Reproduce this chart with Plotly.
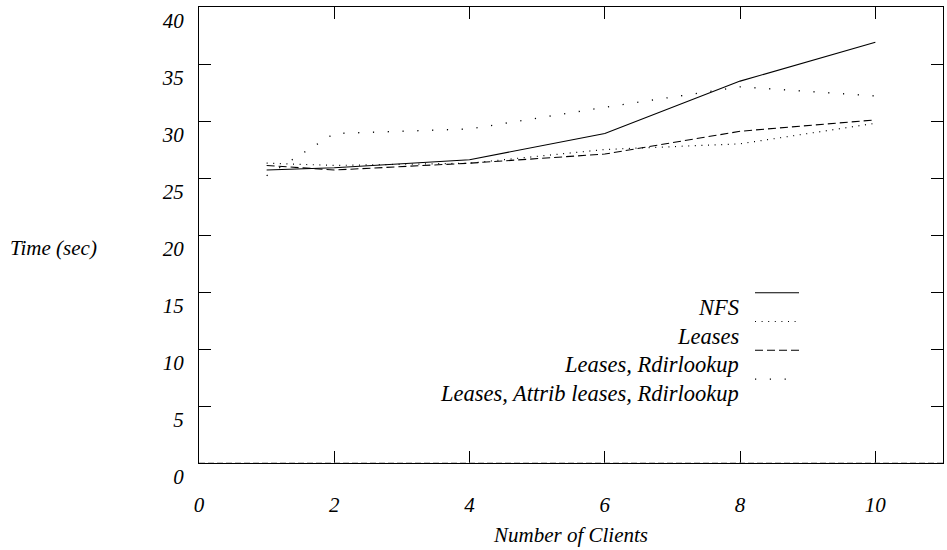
import plotly.graph_objects as go

clients = [1, 2, 4, 6, 8, 10]
series_names = ["NFS", "Leases", "Leases, Rdirlookup", "Leases, Attrib leases, Rdirlookup"]
nfs = [25.7, 25.9, 26.6, 28.9, 33.5, 36.9]
leases = [26.3, 26.1, 26.3, 27.5, 28.0, 29.8]
leases_rdir = [26.1, 25.7, 26.3, 27.1, 29.1, 30.1]
leases_attrib_rdir = [25.2, 28.9, 29.3, 31.2, 33.0, 32.2]
x_ticks = [0, 2, 4, 6, 8, 10]
y_ticks = [0, 5, 10, 15, 20, 25, 30, 35, 40]

series_values = [nfs, leases, leases_rdir, leases_attrib_rdir]
dashes = ["solid", "1px,5.6px", "8px,4px", "1.2px,13.6px"]
widths = [1.1, 1.2, 1.1, 1.3]

FONT = "Liberation Serif"
FS = 21
TXT = dict(family=FONT, size=FS, style="italic", color="black")
LEG_TXT = dict(family=FONT, size=22.5, style="italic", color="black")

fig = go.Figure()
for name, vals, d, w in zip(series_names, series_values, dashes, widths):
    fig.add_trace(go.Scatter(x=clients, y=vals, mode="lines", name=name,
                             line=dict(color="black", width=w, dash=d),
                             showlegend=False))

L, R, T, B = 199, 943, 7, 463
def px(xp): return (xp - L) / (R - L)
def py(yp): return (B - yp) / (B - T)

annotations = []
shapes = []
for i, (name, d, w) in enumerate(zip(series_names, dashes, widths)):
    ys = 292.7 + i * 28.8
    shapes.append(dict(type="line", xref="paper", yref="paper",
                       x0=px(755), x1=px(799), y0=py(ys), y1=py(ys),
                       line=dict(color="black", width=w, dash=d)))
    annotations.append(dict(text=name, xref="paper", yref="paper",
                            x=px(741), y=py(ys + 14.5), xanchor="right", yanchor="middle",
                            showarrow=False, font=LEG_TXT))

annotations.append(dict(text="Time (sec)", xref="paper", yref="paper",
                        x=px(8), y=py(248), xanchor="left", yanchor="middle",
                        showarrow=False, font=TXT))
annotations.append(dict(text="Number of Clients", xref="paper", yref="paper",
                        x=px(570), y=py(535), xanchor="center", yanchor="middle",
                        showarrow=False, font=TXT))

shapes.append(dict(type="line", xref="x", yref="y", x0=0, x1=11, y0=0, y1=0,
                   layer="above", line=dict(color="#888888", width=1, dash="6px,3px")))

fig.update_layout(
    width=947, height=550,
    margin=dict(l=L, r=947 - R, t=T, b=550 - B, pad=0),
    paper_bgcolor="white", plot_bgcolor="white",
    font=dict(family=FONT, size=FS, color="black"),
    annotations=annotations, shapes=shapes,
    showlegend=False,
)
fig.update_xaxes(range=[0, 11], tickvals=x_ticks, ticktext=[str(v) for v in x_ticks],
                 ticks="inside", ticklen=12, tickwidth=1, tickcolor="black",
                 showline=True, linecolor="black", linewidth=1, mirror="ticks",
                 showgrid=False, zeroline=False, tickfont=TXT,
                 ticklabelstandoff=23)
fig.update_yaxes(range=[0, 40], tickvals=y_ticks, ticktext=[str(v) for v in y_ticks],
                 ticks="inside", ticklen=12, tickwidth=1, tickcolor="black",
                 showline=True, linecolor="black", linewidth=1, mirror="ticks",
                 showgrid=False, zeroline=False, tickfont=TXT,
                 ticklabelstandoff=10, ticklabelshift=14)

fig.write_html("out.html")
